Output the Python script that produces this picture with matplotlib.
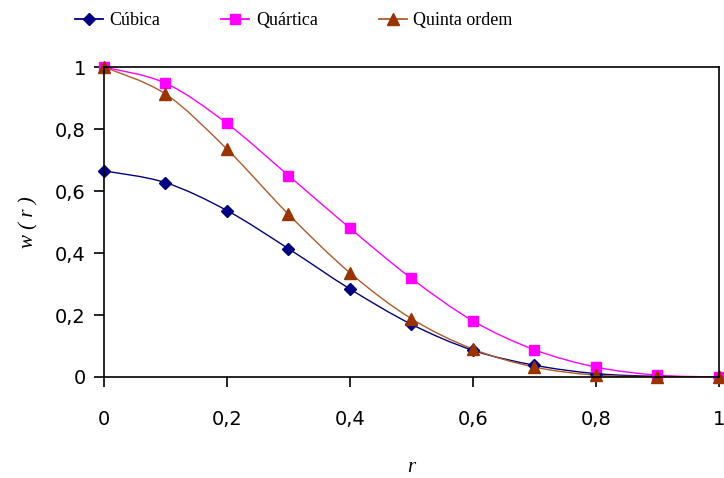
import matplotlib
matplotlib.use("Agg")
import matplotlib.pyplot as plt
from matplotlib.path import Path
from matplotlib.patches import PathPatch
from matplotlib.lines import Line2D
from matplotlib.ticker import FuncFormatter

# Data
r = [0.0, 0.1, 0.2, 0.3, 0.4, 0.5, 0.6, 0.7, 0.8, 0.9, 1.0]
cubica = [0.665, 0.627, 0.537, 0.414, 0.284, 0.170, 0.086, 0.038, 0.011, 0.002, 0.0]
quartica = [1.0, 0.948, 0.818, 0.650, 0.480, 0.318, 0.181, 0.088, 0.032, 0.006, 0.0]
quinta = [1.0, 0.913, 0.735, 0.525, 0.336, 0.188, 0.090, 0.032, 0.006, 0.001, 0.0]

labels = ["Cúbica", "Quártica", "Quinta ordem"]
line_colors = ["#000080", "#FF00FF", "#B05A28"]
marker_colors = ["#000080", "#FF00FF", "#993300"]
markers = ["D", "s", "^"]
msizes = [6, 7, 8]


def smooth_path(xs, ys):
    # Excel-like smoothed line: cubic Bezier through the points
    pts = list(zip(xs, ys))
    verts = [pts[0]]
    codes = [Path.MOVETO]
    n = len(pts)
    for i in range(n - 1):
        p0 = pts[i - 1] if i > 0 else pts[i]
        p1 = pts[i]
        p2 = pts[i + 1]
        p3 = pts[i + 2] if i + 2 < n else pts[i + 1]
        c1 = (p1[0] + (p2[0] - p0[0]) / 6, p1[1] + (p2[1] - p0[1]) / 6)
        c2 = (p2[0] - (p3[0] - p1[0]) / 6, p2[1] - (p3[1] - p1[1]) / 6)
        verts += [c1, c2, p2]
        codes += [Path.CURVE4] * 3
    return Path(verts, codes)


fig = plt.figure(figsize=(7.24, 4.78), dpi=100)
ax = fig.add_axes([0.1436, 0.2113, 0.8494, 0.6485])

handles = []
for ys, lab, lc, mc, mk, ms in zip([cubica, quartica, quinta], labels,
                                    line_colors, marker_colors, markers, msizes):
    ax.add_patch(PathPatch(smooth_path(r, ys), facecolor="none",
                           edgecolor=lc, lw=1.0))
    ax.plot(r, ys, linestyle="none", marker=mk, color=mc, markersize=ms,
            markeredgecolor=mc, clip_on=False)
    handles.append(Line2D([], [], color=lc, lw=1.3, marker=mk, markersize=ms,
                          markerfacecolor=mc, markeredgecolor=mc))

ax.set_xlim(0, 1)
ax.set_ylim(0, 1)
ax.set_xticks([0, 0.2, 0.4, 0.6, 0.8, 1.0])
ax.set_yticks([0, 0.2, 0.4, 0.6, 0.8, 1.0])
fmt = FuncFormatter(lambda v, p: ("%g" % round(v, 1)).replace(".", ","))
ax.xaxis.set_major_formatter(fmt)
ax.yaxis.set_major_formatter(fmt)
ax.tick_params(direction="out", length=7, width=1.2, labelsize=14,
               colors="black")
ax.tick_params(axis="x", pad=17)
ax.tick_params(axis="y", pad=6)
for s in ax.spines.values():
    s.set_linewidth(1.2)
    s.set_color("black")

ax.set_xlabel("r", fontfamily="Liberation Serif", fontstyle="italic",
              fontsize=15, labelpad=21)
ax.set_ylabel("w ( r )", fontfamily="Liberation Serif", fontstyle="italic",
              fontsize=15, labelpad=12)

fig.legend(handles, labels, loc="upper left", bbox_to_anchor=(0.081, 1.009),
           ncol=3, frameon=False, handlelength=1.55, handletextpad=0.35,
           columnspacing=3.4, prop={"family": "Liberation Serif", "size": 13})

fig.savefig("out.png", dpi=100)
